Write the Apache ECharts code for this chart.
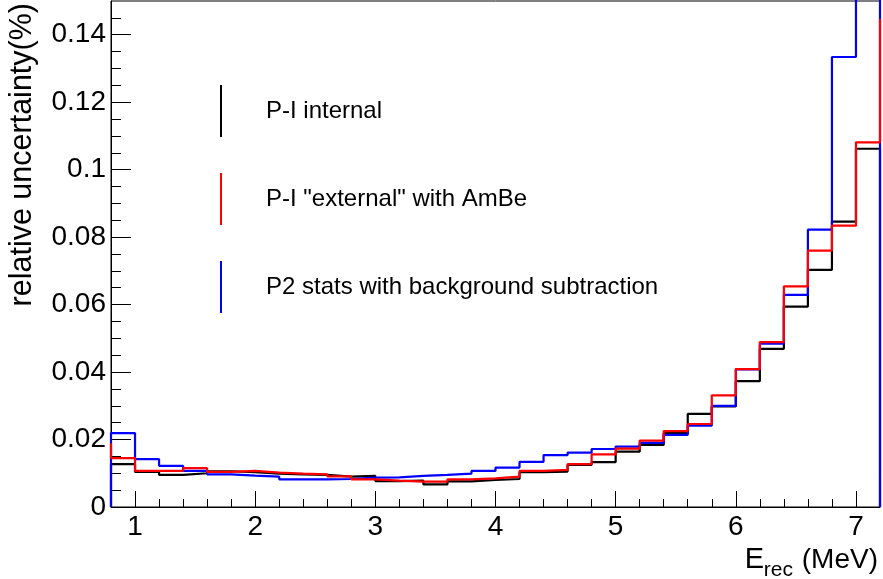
<!DOCTYPE html>
<html><head><meta charset="utf-8">
<script src="https://cdn.jsdelivr.net/npm/echarts@6/dist/echarts.min.js"></script>
<style>html,body{margin:0;padding:0;background:#fff}#c{width:883px;height:579px}</style>
</head><body><div id="c"></div>
<script>
// bin edges (MeV), 32 bins of 0.2 MeV
const binEdges = [0.8,1.0,1.2,1.4,1.6,1.8,2.0,2.2,2.4,2.6,2.8,3.0,3.2,3.4,3.6,3.8,4.0,4.2,4.4,4.6,4.8,5.0,5.2,5.4,5.6,5.8,6.0,6.2,6.4,6.6,6.8,7.0,7.2];

const seriesNames = ['P-I internal', 'P-I "external" with AmBe', 'P2 stats with background subtraction'];

// P-I internal (black)
const internalVals = [0.0127,0.0104,0.0095,0.0100,0.0106,0.0103,0.0099,0.0097,0.0095,0.0090,0.0092,0.0077,0.0078,0.0067,0.0076,0.0080,0.0083,0.0103,0.0105,0.0125,0.0133,0.0164,0.0184,0.0219,0.0276,0.0298,0.0373,0.0469,0.0594,0.0703,0.0846,0.1062];
const internalUnder = 0, internalOver = 0;

// P-I "external" with AmBe (red)
const externalVals = [0.0145,0.0107,0.0107,0.0115,0.0104,0.0107,0.0102,0.0099,0.0097,0.0091,0.0082,0.0078,0.0075,0.0075,0.0082,0.0085,0.0090,0.0107,0.0110,0.0127,0.0156,0.0173,0.0197,0.0225,0.0246,0.0331,0.0409,0.0489,0.0654,0.0760,0.0834,0.1081];
const externalUnder = 0.0189, externalOver = 0.1447;

// P2 stats with background subtraction (blue)
const p2Vals = [0.0219,0.0142,0.0122,0.0107,0.0097,0.0093,0.0090,0.0082,0.0082,0.0083,0.0087,0.0088,0.0092,0.0095,0.0099,0.0107,0.0117,0.0134,0.0154,0.0161,0.0172,0.0179,0.0190,0.0214,0.0241,0.0300,0.0408,0.0484,0.0629,0.0822,0.1334,0.1700];
const p2Under = 0, p2Over = 0;

// axis ticks / labels
const xMajorTicks = [1,2,3,4,5,6,7];
const xMinorTicks = [1.2,1.4,1.6,1.8,2.2,2.4,2.6,2.8,3.2,3.4,3.6,3.8,4.2,4.4,4.6,4.8,5.2,5.4,5.6,5.8,6.2,6.4,6.6,6.8];
const yMajorTicks = [0,0.02,0.04,0.06,0.08,0.1,0.12,0.14];
const yMinorTicks = [0.005,0.01,0.015,0.025,0.03,0.035,0.045,0.05,0.055,0.065,0.07,0.075,0.085,0.09,0.095,0.105,0.11,0.115,0.125,0.13,0.135,0.145];

function histData(vals, under, over) {
  const d = [[binEdges[0], under]];
  for (let i = 0; i < vals.length; i++) d.push([binEdges[i], vals[i]]);
  d.push([binEdges[binEdges.length - 1], over]);
  return d;
}

const FONT = '"Liberation Sans", Arial, Helvetica, sans-serif';
const chart = echarts.init(document.getElementById('c'), null, {renderer: 'canvas'});

function histSeries(name, color, data) {
  return {
    name: name, type: 'line', step: 'end', data: data,
    xAxisIndex: 0, yAxisIndex: 0,
    symbol: 'none', showSymbol: false, clip: true,
    lineStyle: {color: color, width: 2.2},
    itemStyle: {color: color},
    animation: false
  };
}

chart.setOption({
  animation: false,
  backgroundColor: '#fff',
  grid: {left: 111, right: 3, top: 1, bottom: 72, show: true, borderColor: '#000', borderWidth: 1, containLabel: false, outerBoundsMode: 'none'},
  xAxis: [
    {type: 'value', min: 0.8, max: 7.2, position: 'bottom',
     axisLine: {show: true, onZero: false, lineStyle: {color: '#000', width: 1}},
     splitLine: {show: false},
     axisTick: {show: true, inside: true, length: 16, customValues: xMajorTicks, lineStyle: {color: '#000', width: 1}},
     axisLabel: {show: true, customValues: xMajorTicks, margin: 6, color: '#000', fontSize: 28, fontFamily: FONT}},
    {type: 'value', min: 0.8, max: 7.2, position: 'bottom',
     axisLine: {show: false}, splitLine: {show: false},
     axisTick: {show: true, inside: true, length: 8, customValues: xMinorTicks, lineStyle: {color: '#000', width: 1}},
     axisLabel: {show: false}}
  ],
  yAxis: [
    {type: 'value', min: 0, max: 0.15, position: 'left',
     axisLine: {show: true, onZero: false, lineStyle: {color: '#000', width: 1}},
     splitLine: {show: false},
     axisTick: {show: true, inside: true, length: 20, customValues: yMajorTicks, lineStyle: {color: '#000', width: 1}},
     axisLabel: {show: true, customValues: yMajorTicks, margin: 5, color: '#000', fontSize: 28, fontFamily: FONT}},
    {type: 'value', min: 0, max: 0.15, position: 'left',
     axisLine: {show: false}, splitLine: {show: false},
     axisTick: {show: true, inside: true, length: 10, customValues: yMinorTicks, lineStyle: {color: '#000', width: 1}},
     axisLabel: {show: false}}
  ],
  legend: {
    orient: 'vertical', left: 215, top: 80,
    itemWidth: 2, itemHeight: 52, itemGap: 36, icon: 'rect',
    data: seriesNames,
    textStyle: {fontSize: 24, color: '#000', fontFamily: FONT, padding: [0, 0, 0, 39]},
    selectedMode: false
  },
  series: [
    histSeries(seriesNames[0], '#000000', histData(internalVals, internalUnder, internalOver)),
    histSeries(seriesNames[2], '#0000ff', histData(p2Vals, p2Under, p2Over)),
    histSeries(seriesNames[1], '#ff0000', histData(externalVals, externalUnder, externalOver))
  ],
  graphic: [
    {type: 'text', x: 23, y: 3, rotation: Math.PI / 2,
     style: {text: 'relative uncertainty(%)', font: '30.5px ' + FONT, fill: '#000', align: 'right', verticalAlign: 'middle'}},
    {type: 'text', x: 878, y: 560,
     style: {text: '(MeV)', font: '28px ' + FONT, fill: '#000', align: 'right', verticalAlign: 'middle'}},
    {type: 'text', x: 793, y: 570,
     style: {text: 'rec', font: '21px ' + FONT, fill: '#000', align: 'right', verticalAlign: 'middle'}},
    {type: 'text', x: 764, y: 560,
     style: {text: 'E', font: '29px ' + FONT, fill: '#000', align: 'right', verticalAlign: 'middle'}}
  ]
});
</script>
</body></html>
